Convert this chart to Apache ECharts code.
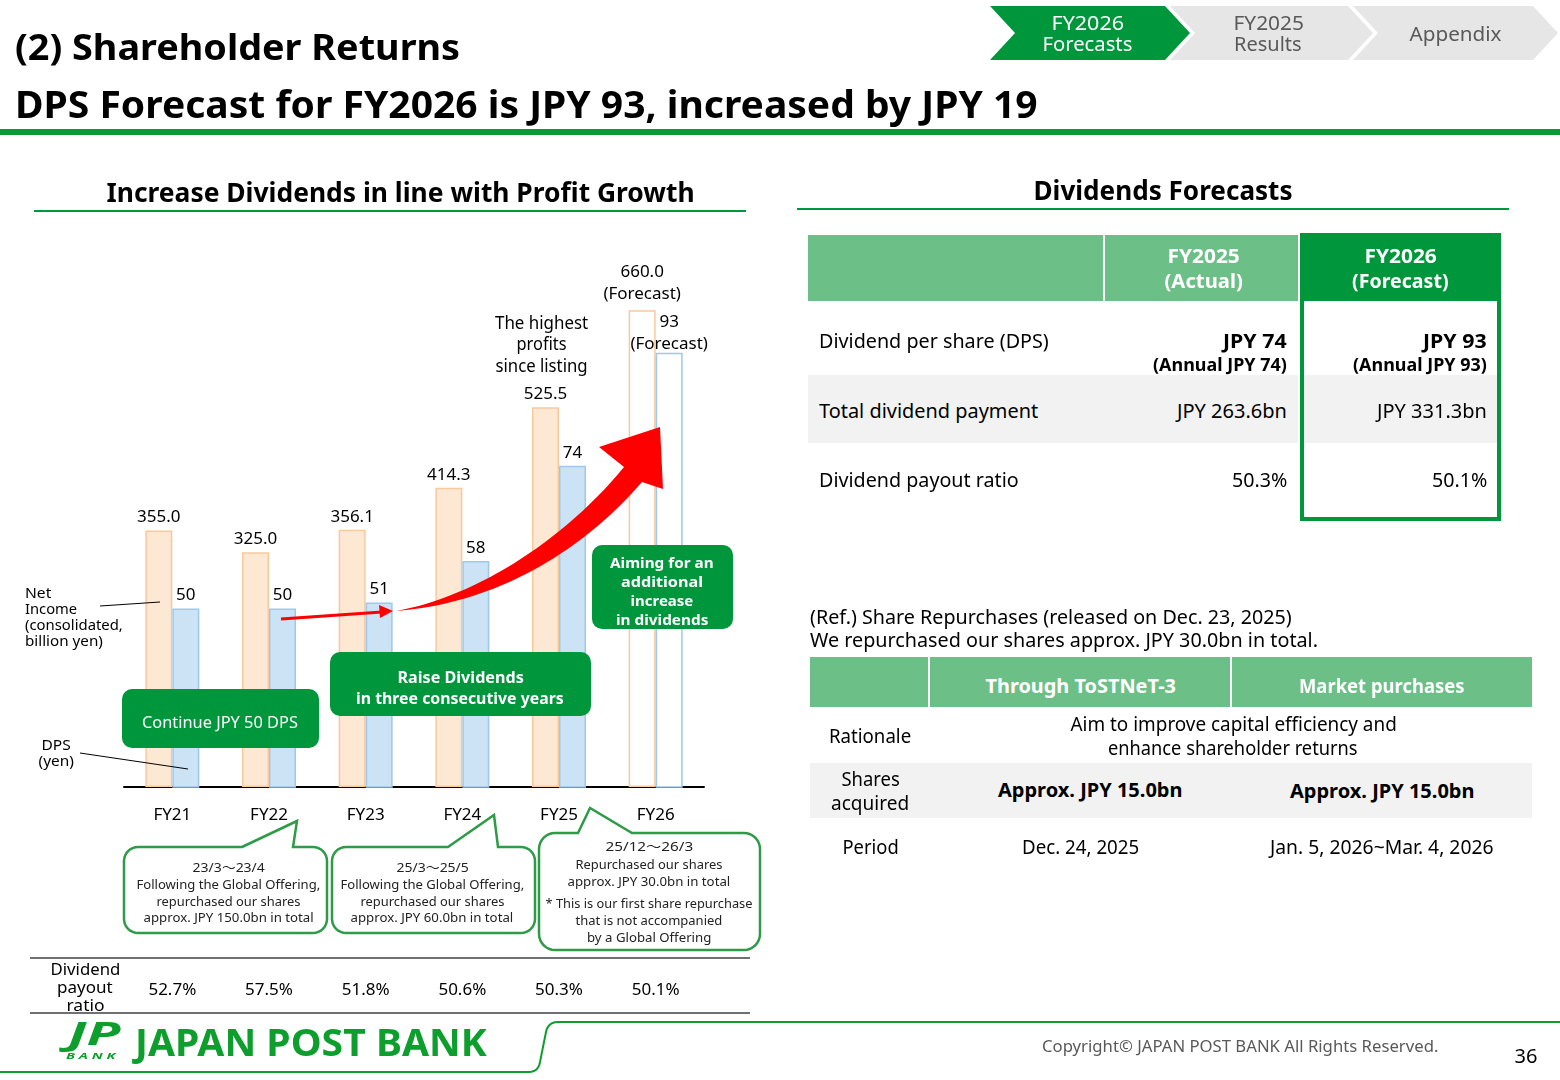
<!DOCTYPE html>
<html><head><meta charset="utf-8">
<script src="https://cdn.jsdelivr.net/npm/echarts@6/dist/echarts.min.js"></script>
<style>
html,body{margin:0;padding:0;background:#fff;}
body{width:1560px;height:1080px;position:relative;overflow:hidden;font-family:"Noto Sans",sans-serif;}
#chart{position:absolute;left:0;top:0;width:1560px;height:1080px;z-index:1;}
.bx{position:absolute;z-index:2;box-sizing:border-box;}
.t{position:absolute;z-index:5;white-space:pre;}
</style></head><body>
<div id="chart"></div>
<script>
// ---------------- data ----------------
const categories = ['FY21', 'FY22', 'FY23', 'FY24', 'FY25', 'FY26'];
const netIncome = [355.0, 325.0, 356.1, 414.3, 525.5, 660.0];   // billion yen
const dps = [50, 50, 51, 58, 74, 93];                             // yen
const payoutRatio = [52.7, 57.5, 51.8, 50.6, 50.3, 50.1];         // %
const forecastIndex = 5;

// ---------------- helpers ----------------
const FF = '"Noto Sans", "Open Sans", sans-serif';
const FFJ = '"Noto Sans", "Noto Sans CJK JP", sans-serif';
const G = '#00963C';
const LG = '#6DBF88';
function box(x, y, w, h, css) {
  const d = document.createElement('div');
  d.className = 'bx';
  d.style.cssText += `left:${x}px;top:${y}px;width:${w}px;height:${h}px;` + (css || '');
  document.body.appendChild(d);
  return d;
}
function T(txt, x, y, o) {
  o = o || {};
  const d = document.createElement('div');
  d.className = 't';
  d.textContent = txt;
  const s = d.style;
  s.fontSize = (o.size || 18) + 'px';
  s.fontWeight = o.bold ? '700' : '400';
  s.color = o.color || '#000';
  s.fontFamily = o.ff || FF;
  if (o.italic) s.fontStyle = 'italic';
  if (o.ls) s.letterSpacing = o.ls + 'px';
  s.lineHeight = (o.lh || Math.round((o.size || 18) * 1.3)) + 'px';
  const al = o.align || 'l';
  document.body.appendChild(d);
  const w = d.offsetWidth, h = d.offsetHeight;
  const sx = o.w ? o.w / w : (o.sx || 1);
  const left = al === 'c' ? x - w / 2 : al === 'r' ? x - w : x;
  s.left = left + 'px';
  s.top = (y - h / 2) + 'px';
  s.transformOrigin = al === 'c' ? 'center center' : al === 'r' ? 'right center' : 'left center';
  s.transform = 'scaleX(' + sx + ')';
}

// ---------------- header ----------------
T('(2) Shareholder Returns', 15, 46, {size: 36, bold: true, w: 445});
T('DPS Forecast for FY2026 is JPY 93, increased by JPY 19', 15, 104, {size: 37, bold: true, w: 1023});
function chev(x, w, color) {
  return box(x, 6, w, 54, `background:${color};clip-path:polygon(0 0, ${w - 25}px 0, ${w}px 50%, ${w - 25}px 100%, 0 100%, 25px 50%);`);
}
chev(990, 200, G);
chev(1170, 203, '#E7E6E6');
chev(1353, 205, '#E7E6E6');
T('FY2026', 1087, 23, {size: 20, color: '#fff', w: 72, align: 'c'});
T('Forecasts', 1087, 44, {size: 20, color: '#fff', w: 90, align: 'c'});
T('FY2025', 1268, 23, {size: 20, color: '#595959', w: 70, align: 'c'});
T('Results', 1268, 44, {size: 20, color: '#595959', w: 68, align: 'c'});
T('Appendix', 1455, 34, {size: 20, color: '#595959', w: 92, align: 'c'});

// ---------------- section titles ----------------
T('Increase Dividends in line with Profit Growth', 400, 192, {size: 26, bold: true, w: 588, align: 'c'});
T('Dividends Forecasts', 1163, 190, {size: 26, bold: true, w: 259, align: 'c'});

// ---------------- right table 1 ----------------
box(808, 235, 295, 66, `background:${LG};`);
box(1105, 235, 193, 66, `background:${LG};`);
box(1300, 233, 200, 68, `background:${G};`);
box(808, 375, 490, 68, 'background:#F2F2F2;');
box(1300, 375, 200, 68, 'background:#F2F2F2;');
box(1300, 233, 201, 288, `border:4px solid ${G};z-index:3;`);
T('FY2025', 1203, 256, {size: 20, bold: true, color: '#fff', w: 72, align: 'c'});
T('(Actual)', 1203, 281, {size: 20, bold: true, color: '#fff', w: 78, align: 'c'});
T('FY2026', 1400, 256, {size: 20, bold: true, color: '#fff', w: 72, align: 'c'});
T('(Forecast)', 1400, 281, {size: 20, bold: true, color: '#fff', w: 97, align: 'c'});
T('Dividend per share (DPS)', 819, 341, {size: 20, w: 230});
T('JPY 74', 1287, 341, {size: 20, bold: true, w: 64, align: 'r'});
T('(Annual JPY 74)', 1287, 365, {size: 17, bold: true, w: 134, align: 'r'});
T('JPY 93', 1487, 341, {size: 20, bold: true, w: 64, align: 'r'});
T('(Annual JPY 93)', 1487, 365, {size: 17, bold: true, w: 134, align: 'r'});
T('Total dividend payment', 819, 411, {size: 20, w: 219});
T('JPY 263.6bn', 1287, 411, {size: 20, w: 110, align: 'r'});
T('JPY 331.3bn', 1487, 411, {size: 20, w: 110, align: 'r'});
T('Dividend payout ratio', 819, 480, {size: 20, w: 200});
T('50.3%', 1287, 480, {size: 20, w: 55, align: 'r'});
T('50.1%', 1487, 480, {size: 20, w: 55, align: 'r'});

// ---------------- right table 2 ----------------
T('(Ref.) Share Repurchases (released on Dec. 23, 2025)', 810, 617, {size: 20, w: 482});
T('We repurchased our shares approx. JPY 30.0bn in total.', 810, 640, {size: 20, w: 508});
box(810, 657, 118, 50, `background:${LG};`);
box(930, 657, 300, 50, `background:${LG};`);
box(1232, 657, 300, 50, `background:${LG};`);
box(810, 763, 722, 55, 'background:#F2F2F2;');
T('Through ToSTNeT-3', 1080, 686, {size: 20, bold: true, color: '#fff', w: 190, align: 'c'});
T('Market purchases', 1382, 686, {size: 20, bold: true, color: '#fff', w: 166, align: 'c'});
T('Rationale', 870, 736, {size: 20, w: 82, align: 'c'});
T('Aim to improve capital efficiency and', 1233, 724, {size: 20, w: 326, align: 'c'});
T('enhance shareholder returns', 1233, 748, {size: 20, w: 250, align: 'c'});
T('Shares', 870, 779, {size: 20, w: 58, align: 'c'});
T('acquired', 870, 803, {size: 20, w: 78, align: 'c'});
T('Approx. JPY 15.0bn', 1090, 790, {size: 20, bold: true, w: 184, align: 'c'});
T('Approx. JPY 15.0bn', 1382, 791, {size: 20, bold: true, w: 184, align: 'c'});
T('Period', 870, 847, {size: 20, w: 56, align: 'c'});
T('Dec. 24, 2025', 1080, 847, {size: 20, w: 117, align: 'c'});
T('Jan. 5, 2026~Mar. 4, 2026', 1382, 847, {size: 20, w: 224, align: 'c'});

// ---------------- chart annotations (text) ----------------
T('Net', 25, 592, {size: 15, w: 26});
T('Income', 25, 608, {size: 15, w: 52});
T('(consolidated,', 25, 624, {size: 15, w: 98});
T('billion yen)', 25, 640, {size: 15, w: 78});
T('DPS', 56, 744, {size: 15, w: 29, align: 'c'});
T('(yen)', 56, 760, {size: 15, w: 35, align: 'c'});
T('The highest', 541, 322, {size: 18, w: 93, align: 'c'});
T('profits', 541, 343, {size: 18, w: 50, align: 'c'});
T('since listing', 541, 365, {size: 18, w: 92, align: 'c'});
T('Continue JPY 50 DPS', 220, 722, {size: 17, color: '#fff', w: 156, align: 'c'});
T('Raise Dividends', 460, 677, {size: 16, bold: true, color: '#fff', w: 126, align: 'c'});
T('in three consecutive years', 460, 698, {size: 16, bold: true, color: '#fff', w: 208, align: 'c'});
T('Aiming for an', 662, 562, {size: 15, bold: true, color: '#fff', w: 104, align: 'c'});
T('additional', 662, 581, {size: 15, bold: true, color: '#fff', w: 82, align: 'c'});
T('increase', 662, 600, {size: 15, bold: true, color: '#fff', w: 63, align: 'c'});
T('in dividends', 662, 619, {size: 15, bold: true, color: '#fff', w: 92, align: 'c'});
// bubbles
const bc = '#222';
T('23/3～23/4', 228, 867, {size: 13, color: bc, w: 72, align: 'c', ff: FFJ});
T('Following the Global Offering,', 228, 884, {size: 13, color: bc, w: 184, align: 'c'});
T('repurchased our shares', 228, 901, {size: 13, color: bc, w: 144, align: 'c'});
T('approx. JPY 150.0bn in total', 228, 917, {size: 13, color: bc, w: 170, align: 'c'});
T('25/3～25/5', 432, 867, {size: 13, color: bc, w: 72, align: 'c', ff: FFJ});
T('Following the Global Offering,', 432, 884, {size: 13, color: bc, w: 184, align: 'c'});
T('repurchased our shares', 432, 901, {size: 13, color: bc, w: 144, align: 'c'});
T('approx. JPY 60.0bn in total', 432, 917, {size: 13, color: bc, w: 163, align: 'c'});
T('25/12～26/3', 649, 846, {size: 13, color: bc, w: 88, align: 'c', ff: FFJ});
T('Repurchased our shares', 649, 864, {size: 13, color: bc, w: 147, align: 'c'});
T('approx. JPY 30.0bn in total', 649, 881, {size: 13, color: bc, w: 163, align: 'c'});
T('* This is our first share repurchase', 649, 903, {size: 13, color: bc, w: 207, align: 'c'});
T('that is not accompanied', 649, 920, {size: 13, color: bc, w: 147, align: 'c'});
T('by a Global Offering', 649, 937, {size: 13, color: bc, w: 124, align: 'c'});
T('Dividend', 85, 969, {size: 17, w: 70, align: 'c'});
T('payout', 85, 987, {size: 17, w: 56, align: 'c'});
T('ratio', 85, 1005, {size: 17, w: 38, align: 'c'});

// ---------------- footer ----------------
const FG = '#0E9E2E';
T('JP', 68, 1033, {size: 32, bold: true, italic: true, color: FG, w: 52, lh: 32});
T('B A N K', 66, 1056, {size: 9, bold: true, italic: true, color: FG, w: 50, lh: 10});
T('JAPAN POST BANK', 135, 1041, {size: 38, bold: true, color: FG, w: 352});
T('Copyright© JAPAN POST BANK All Rights Reserved.', 1042, 1046, {size: 17, color: '#595959', w: 396});
T('36', 1526, 1056, {size: 20, color: '#000', align: 'c'});

// ---------------- geometry helpers for decorations ----------------
function arcPts(cx, cy, r, a0, a1, n) {
  const out = [];
  for (let i = 0; i <= n; i++) {
    const a = a0 + (a1 - a0) * i / n;
    out.push([cx + r * Math.cos(a), cy + r * Math.sin(a)]);
  }
  return out;
}
function bubblePts(x, y, w, h, r, bl, tip, br) {
  const P = Math.PI;
  let pts = [[bl, y], tip, [br, y]];
  pts = pts.concat(arcPts(x + w - r, y + r, r, -P / 2, 0, 8));
  pts = pts.concat(arcPts(x + w - r, y + h - r, r, 0, P / 2, 8));
  pts = pts.concat(arcPts(x + r, y + h - r, r, P / 2, P, 8));
  pts = pts.concat(arcPts(x + r, y + r, r, P, 1.5 * P, 8));
  return pts;
}
function cubicPts(p0, p1, p2, p3, n) {
  const out = [];
  for (let i = 0; i <= n; i++) {
    const t = i / n, u = 1 - t;
    out.push([
      u * u * u * p0[0] + 3 * u * u * t * p1[0] + 3 * u * t * t * p2[0] + t * t * t * p3[0],
      u * u * u * p0[1] + 3 * u * u * t * p1[1] + 3 * u * t * t * p2[1] + t * t * t * p3[1]
    ]);
  }
  return out;
}
const arrowPts = [].concat(
  cubicPts([396, 611], [470, 598], [560, 545], [624, 467], 30),
  [[599, 447], [660, 427], [663, 489]],
  cubicPts([642, 482], [585, 548], [500, 603], [396, 611], 30)
);
const footerPts = [].concat(
  [[0, 1072], [528, 1072]],
  cubicPts([528, 1072], [536, 1072], [539, 1068], [540, 1062], 6),
  [[546, 1032]],
  cubicPts([546, 1032], [547, 1026], [551, 1022], [558, 1022], 6),
  [[1560, 1022]]
);

// ---------------- ECharts ----------------
const BG = '#2E9B48';
const chart = echarts.init(document.getElementById('chart'), null, {renderer: 'canvas'});
const niColor = {fill: '#FCE8D3', border: '#F9C99C'};
const dpsColor = {fill: '#CCE2F5', border: '#9DC9EE'};
const labelBase = {show: true, position: 'top', distance: 2, fontSize: 17, lineHeight: 22, color: '#000', fontFamily: FF};
const option = {
  animation: false,
  grid: {left: 124, width: 580, top: 281.25, height: 505.75},
  xAxis: [
    {type: 'category', data: categories, axisLine: {lineStyle: {color: '#000', width: 2}},
      axisTick: {show: false}, axisLabel: {margin: 20, fontSize: 17, color: '#000', fontFamily: FF}},
    {type: 'category', data: payoutRatio.map(v => v.toFixed(1) + '%'), position: 'bottom', offset: 193,
      axisLine: {show: false}, axisTick: {show: false},
      axisLabel: {margin: 2, fontSize: 17, color: '#000', fontFamily: FF}}
  ],
  yAxis: [
    {type: 'value', min: 0, max: 700, show: false, splitLine: {show: false}},
    {type: 'value', min: 20, max: 105, show: false, splitLine: {show: false}}
  ],
  series: [
    {
      type: 'bar', name: 'Net Income', yAxisIndex: 0, barWidth: 27, barGap: '0%',
      data: netIncome.map((v, i) => ({
        value: v,
        itemStyle: {color: i === forecastIndex ? '#fff' : niColor.fill, borderColor: niColor.border, borderWidth: 1.5},
        label: i === forecastIndex ? {offset: [0, -3]} : undefined
      })),
      label: Object.assign({}, labelBase, {formatter: p => p.dataIndex === forecastIndex ? p.value.toFixed(1) + '\n(Forecast)' : p.value.toFixed(1)})
    },
    {
      type: 'bar', name: 'DPS', yAxisIndex: 1, barWidth: 27, barGap: '0%',
      data: dps.map((v, i) => ({
        value: v,
        itemStyle: {color: i === forecastIndex ? '#fff' : dpsColor.fill, borderColor: dpsColor.border, borderWidth: 1.5},
        label: i === forecastIndex ? {offset: [0, 5]} : undefined
      })),
      label: Object.assign({}, labelBase, {formatter: p => p.dataIndex === forecastIndex ? p.value + '\n(Forecast)' : String(p.value)})
    }
  ],
  graphic: [
    {type: 'rect', z: 100, shape: {x: 0, y: 129, width: 1560, height: 6}, style: {fill: '#0A9A35'}},
    {type: 'line', z: 100, shape: {x1: 34, y1: 211, x2: 746, y2: 211}, style: {stroke: G, lineWidth: 2}},
    {type: 'line', z: 100, shape: {x1: 797, y1: 209, x2: 1509, y2: 209}, style: {stroke: G, lineWidth: 2}},
    {type: 'line', z: 100, shape: {x1: 100, y1: 606, x2: 160, y2: 602}, style: {stroke: '#000', lineWidth: 1}},
    {type: 'line', z: 100, shape: {x1: 80, y1: 753, x2: 188, y2: 769}, style: {stroke: '#000', lineWidth: 1}},
    // red arrows
    {type: 'line', z: 100, shape: {x1: 281, y1: 619, x2: 382, y2: 612}, style: {stroke: '#FF0000', lineWidth: 3}},
    {type: 'polygon', z: 100, shape: {points: [[393, 611], [379, 605], [380, 618]]}, style: {fill: '#FF0000'}},
    {type: 'polygon', z: 100, shape: {points: arrowPts}, style: {fill: '#FF0000'}},
    // green callouts
    {type: 'rect', z: 100, shape: {x: 122, y: 689, width: 197, height: 59, r: 10}, style: {fill: G}},
    {type: 'rect', z: 100, shape: {x: 330, y: 652, width: 261, height: 64, r: 10}, style: {fill: G}},
    {type: 'rect', z: 100, shape: {x: 592, y: 545, width: 141, height: 84, r: 10}, style: {fill: G}},
    // bubbles
    {type: 'polygon', z: 100, shape: {points: bubblePts(124, 847, 203, 86, 14, 242, [297, 821], 293)}, style: {fill: '#fff', stroke: BG, lineWidth: 2.5}},
    {type: 'polygon', z: 100, shape: {points: bubblePts(332, 847, 203, 86, 14, 448, [494, 815], 498)}, style: {fill: '#fff', stroke: BG, lineWidth: 2.5}},
    {type: 'polygon', z: 100, shape: {points: bubblePts(539, 833, 221, 117, 16, 578, [590, 808], 632)}, style: {fill: '#fff', stroke: BG, lineWidth: 2.5}},
    // payout row lines
    {type: 'line', z: 100, shape: {x1: 30, y1: 958, x2: 750, y2: 958}, style: {stroke: '#404040', lineWidth: 1.5}},
    {type: 'line', z: 100, shape: {x1: 30, y1: 1013, x2: 750, y2: 1013}, style: {stroke: '#404040', lineWidth: 1.5}},
    // footer line
    {type: 'polyline', z: 100, shape: {points: footerPts}, style: {fill: null, stroke: FG, lineWidth: 2}}
  ]
};
chart.setOption(option);
</script>
</body></html>
